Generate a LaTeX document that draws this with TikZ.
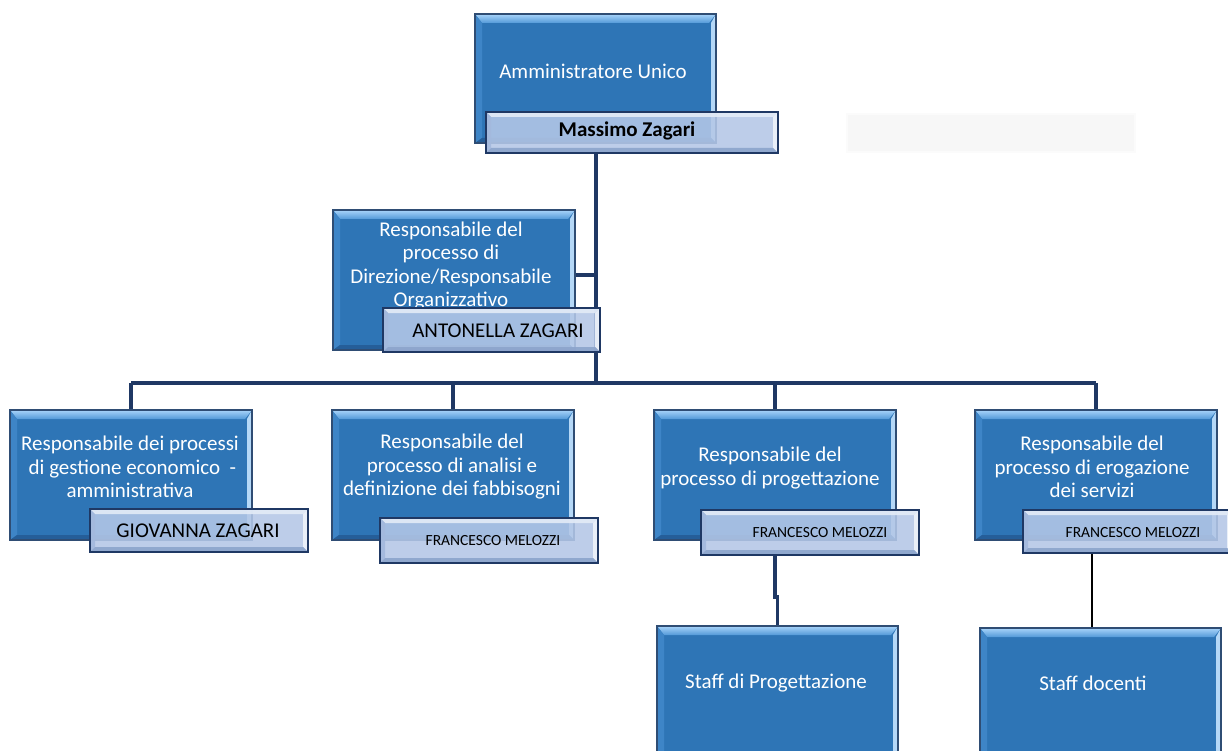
\documentclass[tikz,border=0pt]{standalone}
\usepackage{fontspec}
\setmainfont{Carlito}
\usetikzlibrary{calc}
\pgfdeclarelayer{background}
\pgfsetlayers{background,main}
\definecolor{boxblue}{HTML}{2E75B6}
\definecolor{bevtopA}{HTML}{A8D4FA}
\definecolor{bevtopB}{HTML}{5399D8}
\definecolor{bevright}{HTML}{B5D8F7}
\definecolor{bevleft}{HTML}{3E85C7}
\definecolor{bevbot}{HTML}{255E99}
\definecolor{boxedge}{HTML}{2F4D74}
\definecolor{barfill}{HTML}{B4C7E7}
\definecolor{bartop}{HTML}{E3EBF7}
\definecolor{barright}{HTML}{EEF3FA}
\definecolor{barleft}{HTML}{A3B9DD}
\definecolor{barbot}{HTML}{8CA4CC}
\definecolor{baredge}{HTML}{1F3864}
\definecolor{conncol}{HTML}{1F3864}
\tikzset{
  mainbox/.style={shape=rectangle, fill=boxblue, inner sep=0pt, outer sep=0pt},
  barbox/.style={shape=rectangle, fill=barfill, fill opacity=0.88, inner sep=0pt, outer sep=0pt},
  boxtext/.style={text=white, font=\fontsize{21}{23.5}\selectfont, align=center, inner sep=0pt},
  bartext/.style={text=black, font=\fontsize{21}{23.5}\selectfont, inner sep=0pt},
  smalltext/.style={text=black, font=\fontsize{15.5}{18}\selectfont, inner sep=0pt},
  conn/.style={draw=conncol, line width=3.3pt},
}
\newcommand{\mainbevbox}[5]{%
  \pgfmathsetmacro{\bw}{#4-#2}\pgfmathsetmacro{\bh}{#5-#3}%
  \node[mainbox, anchor=north west, minimum width=\bw pt, minimum height=\bh pt] (#1) at (#2,#3) {};
  \shade[top color=bevtopA, bottom color=bevtopB] (#1.north west) -- (#1.north east) -- ([shift={(-7pt,-9pt)}]#1.north east) -- ([shift={(7pt,-9pt)}]#1.north west) -- cycle;
  \fill[bevright] (#1.north east) -- (#1.south east) -- ([shift={(-5pt,5pt)}]#1.south east) -- ([shift={(-5pt,-9pt)}]#1.north east) -- cycle;
  \fill[bevleft] (#1.north west) -- (#1.south west) -- ([shift={(7pt,5pt)}]#1.south west) -- ([shift={(7pt,-9pt)}]#1.north west) -- cycle;
  \fill[bevbot] (#1.south west) -- (#1.south east) -- ([shift={(-5pt,5pt)}]#1.south east) -- ([shift={(7pt,5pt)}]#1.south west) -- cycle;
  \draw[boxedge, line width=1.2pt] (#1.north west) rectangle (#1.south east);
}
\newcommand{\barbevbox}[5]{%
  \pgfmathsetmacro{\bw}{#4-#2}\pgfmathsetmacro{\bh}{#5-#3}%
  \node[barbox, anchor=north west, minimum width=\bw pt, minimum height=\bh pt] (#1) at (#2,#3) {};
  \fill[bartop, fill opacity=0.9] (#1.north west) -- (#1.north east) -- ([shift={(-5pt,-5pt)}]#1.north east) -- ([shift={(5pt,-5pt)}]#1.north west) -- cycle;
  \fill[barright, fill opacity=0.9] (#1.north east) -- (#1.south east) -- ([shift={(-5pt,5pt)}]#1.south east) -- ([shift={(-5pt,-5pt)}]#1.north east) -- cycle;
  \fill[barleft, fill opacity=0.9] (#1.north west) -- (#1.south west) -- ([shift={(5pt,5pt)}]#1.south west) -- ([shift={(5pt,-5pt)}]#1.north west) -- cycle;
  \fill[barbot, fill opacity=0.9] (#1.south west) -- (#1.south east) -- ([shift={(-5pt,5pt)}]#1.south east) -- ([shift={(5pt,5pt)}]#1.south west) -- cycle;
  \draw[baredge, line width=2.2pt] (#1.north west) rectangle (#1.south east);
}
\begin{document}
\begin{tikzpicture}[x=1pt, y=-1pt]
\useasboundingbox (0,0) rectangle (1228,751);
\begin{pgfonlayer}{background}
\fill[white] (0,0) rectangle (1228,751);
\end{pgfonlayer}
\clip (0,0) rectangle (1228,751);

% faint empty shape
\node[fill=black!3, draw=black!1.5, line width=2pt, anchor=north west, minimum width=288pt, minimum height=38pt, inner sep=0pt] (blank) at (846,113) {};

% top
\mainbevbox{au}{475}{14}{716}{143}
\barbevbox{nm}{486}{112}{778}{153}
\node[boxtext] (tau) at (593,71) {Amministratore Unico};
\node[bartext, font=\fontsize{21}{23.5}\selectfont\bfseries] (tnm) at (627,131) {Massimo Zagari};

% direzione
\mainbevbox{dir}{333}{210}{575}{350}
\node[boxtext] (tdir) at (451,266) {Responsabile del\\processo di\\Direzione/Responsabile\\Organizzativo};
\barbevbox{nd}{383}{308}{600}{352}
\node[bartext] (tnd) at (498,331) {ANTONELLA ZAGARI};

% row of four
\mainbevbox{b1}{10}{410}{252}{540}
\node[boxtext] (tb1) at (130,467) {Responsabile dei processi\\\ di gestione economico\ \ -\\amministrativa};
\barbevbox{n1}{90}{509}{308}{552}
\node[bartext] (tn1) at (198,531) {GIOVANNA ZAGARI};

\mainbevbox{b2}{332}{410}{574}{540}
\node[boxtext] (tb2) at (452,467) {Responsabile del\\processo di analisi e\\definizione dei fabbisogni};
\barbevbox{n2}{380}{518}{598}{563}
\node[smalltext] (tn2) at (493,541) {FRANCESCO MELOZZI};

\mainbevbox{b3}{654}{410}{896}{540}
\node[boxtext] (tb3) at (770,468) {Responsabile del\\processo di progettazione};
\barbevbox{n3}{701}{510}{919}{555}
\node[smalltext] (tn3) at (820,533) {FRANCESCO MELOZZI};

\mainbevbox{b4}{975}{410}{1217}{540}
\node[boxtext] (tb4) at (1092,467) {Responsabile del\\processo di erogazione\\dei servizi};
\barbevbox{n4}{1023}{510}{1232}{553}
\node[smalltext] (tn4) at (1133,533) {FRANCESCO MELOZZI};

% staff
\mainbevbox{s1}{657}{626}{898}{780}
\node[boxtext] (ts1) at (776,683) {Staff di Progettazione};
\mainbevbox{s2}{980}{628}{1221}{780}
\node[boxtext] (ts2) at (1093,683) {Staff docenti};

% connectors
\coordinate (bus) at (596,383);
\coordinate (dj) at (596,275);
\coordinate (j1) at (775,597);
\begin{pgfonlayer}{background}
\draw[conn] (nm.south -| bus) -- (bus);
\draw[conn] (dir.east |- dj) -- (dj);
\draw[conn] (b1.north |- bus) -- (b4.north |- bus);
\draw[conn] (b1.north |- bus) -- (b1.north);
\draw[conn] (b2.north |- bus) -- (b2.north);
\draw[conn] (b3.north |- bus) -- (b3.north);
\draw[conn] (b4.north |- bus) -- (b4.north);
\draw[conn] (n3.south -| b3.north) -- (j1) -| (s1.north);
\draw[black, line width=2.4pt] (n4.south -| 1092,0) -- (s2.north -| 1092,0);
\end{pgfonlayer}
\end{tikzpicture}
\end{document}
